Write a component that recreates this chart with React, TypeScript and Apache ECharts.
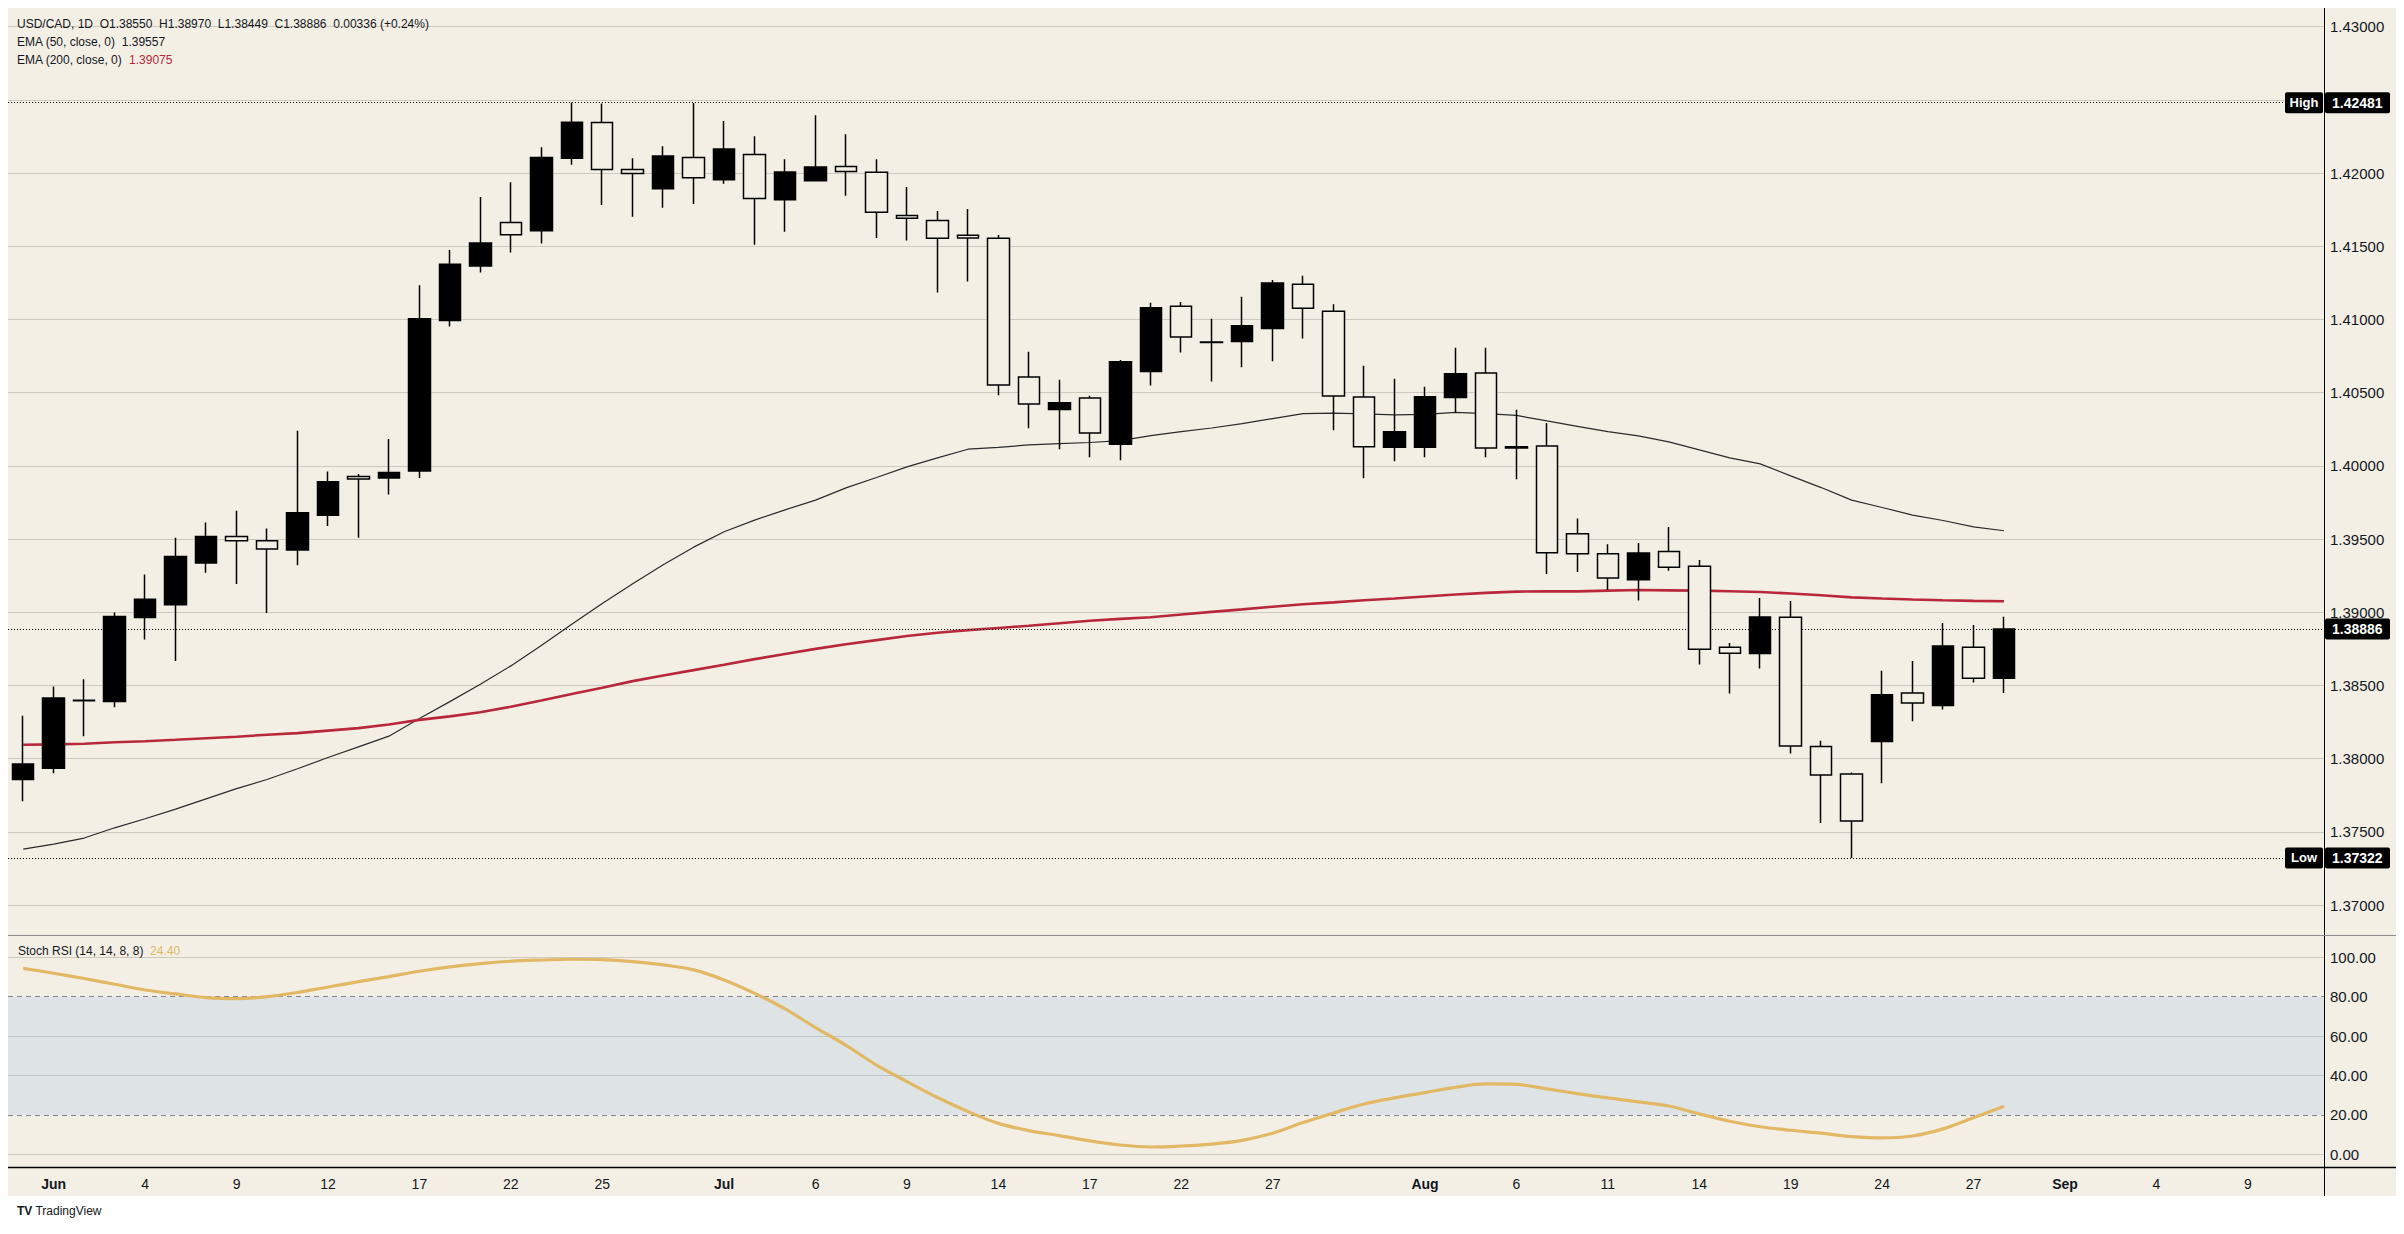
import React, { useEffect, useRef } from "react";
import * as echarts from "echarts";

// ---------- categories (trading days, weekdays only) ----------
const dates = [
  "2026-05-29",
  "2026-06-01", "2026-06-02", "2026-06-03", "2026-06-04", "2026-06-05",
  "2026-06-08", "2026-06-09", "2026-06-10", "2026-06-11", "2026-06-12",
  "2026-06-15", "2026-06-16", "2026-06-17", "2026-06-18", "2026-06-19",
  "2026-06-22", "2026-06-23", "2026-06-24", "2026-06-25", "2026-06-26",
  "2026-06-29", "2026-06-30", "2026-07-01", "2026-07-02", "2026-07-03",
  "2026-07-06", "2026-07-07", "2026-07-08", "2026-07-09", "2026-07-10",
  "2026-07-13", "2026-07-14", "2026-07-15", "2026-07-16", "2026-07-17",
  "2026-07-20", "2026-07-21", "2026-07-22", "2026-07-23", "2026-07-24",
  "2026-07-27", "2026-07-28", "2026-07-29", "2026-07-30", "2026-07-31",
  "2026-08-03", "2026-08-04", "2026-08-05", "2026-08-06", "2026-08-07",
  "2026-08-10", "2026-08-11", "2026-08-12", "2026-08-13", "2026-08-14",
  "2026-08-17", "2026-08-18", "2026-08-19", "2026-08-20", "2026-08-21",
  "2026-08-24", "2026-08-25", "2026-08-26", "2026-08-27", "2026-08-28",
  "2026-08-31", "2026-09-01", "2026-09-02", "2026-09-03", "2026-09-04",
  "2026-09-07", "2026-09-08", "2026-09-09", "2026-09-10", "2026-09-11",
];

// tick labels on the time axis
const timeLabels: Record<string, string> = {
  "2026-06-01": "Jun", "2026-06-04": "4", "2026-06-09": "9", "2026-06-12": "12",
  "2026-06-17": "17", "2026-06-22": "22", "2026-06-25": "25",
  "2026-07-01": "Jul", "2026-07-06": "6", "2026-07-09": "9", "2026-07-14": "14",
  "2026-07-17": "17", "2026-07-22": "22", "2026-07-27": "27",
  "2026-08-03": "Aug", "2026-08-06": "6", "2026-08-11": "11", "2026-08-14": "14",
  "2026-08-19": "19", "2026-08-24": "24", "2026-08-27": "27",
  "2026-09-01": "Sep", "2026-09-04": "4", "2026-09-09": "9",
};
const monthLabels = ["Jun", "Jul", "Aug", "Sep"];

// ---------- OHLC ----------
const opens = [
  1.37858, 1.37935, 1.38395, 1.38390, 1.38964, 1.39051, 1.39336, 1.39517, 1.39489, 1.39426,
  1.39663, 1.39927, 1.39917, 1.39965, 1.40994, 1.41366, 1.41662, 1.41606, 1.42102, 1.42345,
  1.42025, 1.41893, 1.42107, 1.41955, 1.42127, 1.41818, 1.41948, 1.42045, 1.42005, 1.41711,
  1.41677, 1.41575, 1.41555, 1.40607, 1.40386, 1.40464, 1.40148, 1.40645, 1.41091, 1.40843,
  1.40850, 1.40939, 1.41241, 1.41057, 1.40470, 1.40127, 1.40127, 1.40468, 1.40634, 1.40122,
  1.40136, 1.39536, 1.39400, 1.39223, 1.39416, 1.39314, 1.38761, 1.38718, 1.38966, 1.38083,
  1.37895, 1.38118, 1.38448, 1.38364, 1.38761, 1.38550,
];
const highs = [
  1.38293, 1.38494, 1.38543, 1.38999, 1.39259, 1.39510, 1.39614, 1.39694, 1.39572, 1.40240,
  1.39962, 1.39944, 1.40184, 1.41234, 1.41474, 1.41836, 1.41937, 1.42177, 1.42481, 1.42475,
  1.42102, 1.42184, 1.42478, 1.42355, 1.42252, 1.42095, 1.42395, 1.42266, 1.42095, 1.41905,
  1.41741, 1.41755, 1.41577, 1.40780, 1.40589, 1.40480, 1.40723, 1.41114, 1.41120, 1.41005,
  1.41155, 1.41270, 1.41298, 1.41105, 1.40684, 1.40595, 1.40541, 1.40807, 1.40807, 1.40384,
  1.40293, 1.39641, 1.39464, 1.39473, 1.39582, 1.39357, 1.38791, 1.39098, 1.39077, 1.38123,
  1.37905, 1.38600, 1.38668, 1.38927, 1.38914, 1.38970,
];
const lows = [
  1.37709, 1.37900, 1.38154, 1.38352, 1.38814, 1.38668, 1.39270, 1.39193, 1.38995, 1.39322,
  1.39590, 1.39510, 1.39805, 1.39917, 1.40953, 1.41321, 1.41457, 1.41519, 1.42057, 1.41782,
  1.41702, 1.41764, 1.41789, 1.41927, 1.41511, 1.41600, 1.41945, 1.41845, 1.41557, 1.41539,
  1.41184, 1.41259, 1.40482, 1.40257, 1.40114, 1.40059, 1.40039, 1.40550, 1.40775, 1.40577,
  1.40673, 1.40714, 1.40870, 1.40243, 1.39916, 1.40032, 1.40059, 1.40364, 1.40059, 1.39909,
  1.39261, 1.39275, 1.39152, 1.39080, 1.39284, 1.38643, 1.38445, 1.38616, 1.38036, 1.37561,
  1.37322, 1.37832, 1.38255, 1.38336, 1.38520, 1.38449,
];
const closes = [
  1.37963, 1.38415, 1.38400, 1.38971, 1.39089, 1.39381, 1.39517, 1.39489, 1.39433, 1.39680,
  1.39892, 1.39910, 1.39955, 1.41005, 1.41377, 1.41523, 1.41579, 1.42107, 1.42348, 1.42025,
  1.41998, 1.42116, 1.41968, 1.42164, 1.41827, 1.42007, 1.42041, 1.42011, 1.41732, 1.41691,
  1.41555, 1.41557, 1.40552, 1.40423, 1.40432, 1.40225, 1.40711, 1.41080, 1.40880, 1.40847,
  1.40957, 1.41250, 1.41077, 1.40477, 1.40130, 1.40234, 1.40473, 1.40630, 1.40123, 1.40130,
  1.39407, 1.39400, 1.39234, 1.39405, 1.39307, 1.38748, 1.38720, 1.38968, 1.38086, 1.37889,
  1.37575, 1.38436, 1.38380, 1.38770, 1.38550, 1.38886,
];

// ---------- indicators ----------
const ema50 = [
  1.37382, 1.37417, 1.37458, 1.37528, 1.37590, 1.37656, 1.37726, 1.37796, 1.37858, 1.37931,
  1.38008, 1.38081, 1.38154, 1.38275, 1.38390, 1.38508, 1.38634, 1.38773, 1.38919, 1.39060,
  1.39195, 1.39325, 1.39445, 1.39550, 1.39630, 1.39700, 1.39766, 1.39850, 1.39921, 1.39993,
  1.40055, 1.40114, 1.40127, 1.40143, 1.40152, 1.40160, 1.40173, 1.40207, 1.40234, 1.40259,
  1.40289, 1.40323, 1.40357, 1.40361, 1.40355, 1.40348, 1.40352, 1.40366, 1.40357, 1.40345,
  1.40307, 1.40270, 1.40234, 1.40205, 1.40164, 1.40109, 1.40055, 1.40014, 1.39932, 1.39852,
  1.39766, 1.39716, 1.39664, 1.39627, 1.39584, 1.39557,
];
const ema200 = [
  1.38095, 1.38098, 1.38102, 1.38112, 1.38119, 1.38129, 1.38140, 1.38150, 1.38164, 1.38175,
  1.38192, 1.38209, 1.38234, 1.38265, 1.38289, 1.38317, 1.38355, 1.38397, 1.38442, 1.38485,
  1.38530, 1.38568, 1.38605, 1.38642, 1.38680, 1.38715, 1.38750, 1.38782, 1.38810, 1.38838,
  1.38860, 1.38878, 1.38893, 1.38908, 1.38925, 1.38942, 1.38955, 1.38966, 1.38985, 1.39003,
  1.39020, 1.39038, 1.39055, 1.39068, 1.39082, 1.39094, 1.39108, 1.39122, 1.39133, 1.39141,
  1.39144, 1.39143, 1.39148, 1.39152, 1.39150, 1.39148, 1.39144, 1.39139, 1.39128, 1.39116,
  1.39102, 1.39094, 1.39087, 1.39082, 1.39078, 1.39075,
];
const stochRsi = [
  94.4, 91.9, 89.2, 86.3, 83.4, 81.4, 79.5, 79.0, 80.0, 82.1,
  84.9, 87.6, 90.2, 92.9, 95.1, 96.8, 98.0, 98.6, 99.0, 98.8,
  97.8, 96.1, 93.6, 88.5, 81.7, 73.8, 64.3, 55.3, 45.3, 36.9,
  28.8, 21.7, 15.7, 12.0, 9.5, 6.8, 4.7, 3.7, 4.2, 5.2,
  7.1, 10.7, 16.1, 21.0, 25.5, 28.6, 31.3, 34.0, 35.7, 35.5,
  33.2, 30.8, 28.6, 26.6, 24.5, 20.5, 16.8, 14.0, 12.2, 10.7,
  9.0, 8.3, 9.3, 12.9, 18.6, 24.4,
];

// ---------- ticks ----------
const priceTicks = [1.37, 1.375, 1.38, 1.385, 1.39, 1.395, 1.4, 1.405, 1.41, 1.415, 1.42, 1.425, 1.43];
const rsiTicks = [0, 20, 40, 60, 80, 100];
const rsiGridTicks = [0, 40, 60, 100];
const rsiBand = [20, 80];

// ---------- style constants ----------
const FONT = '"Liberation Sans", Arial, sans-serif';
const BG = "#f3efe5";
const GRID = "#cdc9bf";
const TEXT = "#131722";
const RED = "#b8283a";
const ORANGE = "#e2b865";
const AXIS_W = 72;
const PRICE_TOP = 0;
const PRICE_H = 927;
const RSI_H = 232;
const BOTTOM = 1188;

const PRICE_MIN = 1.367958;
const PRICE_MAX = 1.431277;
const RSI_MIN = -6.45;
const RSI_MAX = 111.3;

export default function App() {
  const ref = useRef<HTMLDivElement>(null);

  useEffect(() => {
    const el = ref.current!;
    const chart = echarts.init(el, undefined, { renderer: "svg" });
    const W = el.clientWidth;
    const axisX = W - AXIS_W;

    const ohlc = opens.map((o, i) => [o, closes[i], lows[i], highs[i]]);
    const HIGH = Math.max(...highs);
    const LOW = Math.min(...lows);
    const LAST = closes[closes.length - 1];
    const last = closes.length - 1;

    const option: any = {
      animation: false,
      backgroundColor: "#ffffff",
      textStyle: { fontFamily: FONT },
      grid: [
        { left: -6.4, right: AXIS_W, top: PRICE_TOP, height: PRICE_H },
        { left: -6.4, right: AXIS_W, top: PRICE_TOP + PRICE_H, height: RSI_H },
      ],
      xAxis: [
        {
          type: "category", gridIndex: 0, data: dates, boundaryGap: true,
          axisLine: { show: false }, axisTick: { show: false },
          axisLabel: { show: false }, splitLine: { show: false },
        },
        {
          type: "category", gridIndex: 1, data: dates, boundaryGap: true,
          axisLine: { show: false }, axisTick: { show: false }, splitLine: { show: false },
          axisLabel: {
            interval: (_i: number, v: string) => v in timeLabels,
            formatter: (v: string) => {
              const t = timeLabels[v] || "";
              return monthLabels.includes(t) ? `{m|${t}}` : t;
            },
            margin: 10, fontSize: 14, color: TEXT, fontFamily: FONT,
            rich: { m: { fontWeight: "bold", fontSize: 14, color: TEXT, fontFamily: FONT } },
          },
        },
      ],
      yAxis: [
        {
          type: "value", gridIndex: 0, position: "right", min: PRICE_MIN, max: PRICE_MAX,
          axisLine: { show: false },
          axisTick: { show: false, customValues: priceTicks },
          axisLabel: {
            customValues: priceTicks, formatter: (v: number) => v.toFixed(5),
            margin: 6, fontSize: 15, color: TEXT, fontFamily: FONT,
          },
          splitLine: { show: true, lineStyle: { color: GRID, width: 1 } },
        },
        {
          type: "value", gridIndex: 1, position: "right", min: RSI_MIN, max: RSI_MAX,
          axisLine: { show: false },
          axisTick: { show: false, customValues: rsiGridTicks },
          axisLabel: {
            customValues: rsiTicks, formatter: (v: number) => v.toFixed(2),
            margin: 6, fontSize: 15, color: TEXT, fontFamily: FONT,
          },
          splitLine: { show: true, lineStyle: { color: GRID, width: 1 } },
        },
      ],
      series: [
        {
          type: "candlestick", name: "USD/CAD", xAxisIndex: 0, yAxisIndex: 0,
          data: ohlc, barWidth: 22, z: 5,
          itemStyle: {
            color: "#000000", color0: BG,
            borderColor: "#000000", borderColor0: "#000000", borderWidth: 1.5,
          },
          markLine: {
            silent: true, symbol: ["none", "none"], animation: false, precision: 5,
            label: { show: false },
            lineStyle: { color: "#000000", width: 1, type: [1, 2] },
            data: [{ yAxis: HIGH }, { yAxis: LOW }, { yAxis: LAST }],
          },
        },
        {
          type: "line", name: "EMA 50", xAxisIndex: 0, yAxisIndex: 0, data: ema50,
          symbol: "none", z: 4, lineStyle: { color: "#2b2b2b", width: 1.2 },
        },
        {
          type: "line", name: "EMA 200", xAxisIndex: 0, yAxisIndex: 0, data: ema200,
          symbol: "none", z: 4, lineStyle: { color: RED, width: 2.6 },
        },
        {
          type: "line", name: "Stoch RSI", xAxisIndex: 1, yAxisIndex: 1, data: stochRsi,
          symbol: "none", smooth: 0.35, z: 5, lineStyle: { color: ORANGE, width: 3.2 },
          markArea: {
            silent: true,
            itemStyle: { color: "rgba(120,175,236,0.17)" },
            data: [[{ yAxis: rsiBand[0] }, { yAxis: rsiBand[1] }]],
          },
          markLine: {
            silent: true, symbol: ["none", "none"], label: { show: false }, precision: 2,
            lineStyle: { color: "#80838b", width: 1, type: [5, 4] },
            data: rsiBand.map((v) => ({ yAxis: v })),
          },
        },
      ],
    };
    chart.setOption(option);

    const yHigh = chart.convertToPixel({ yAxisIndex: 0 }, HIGH) as number;
    const yLow = chart.convertToPixel({ yAxisIndex: 0 }, LOW) as number;
    const yLast = chart.convertToPixel({ yAxisIndex: 0 }, LAST) as number;

    const box = (y: number, label: string) => [
      {
        type: "rect", z: 60, silent: true,
        shape: { x: axisX + 1, y: y - 10.5, width: 65, height: 21, r: 2 },
        style: { fill: "#000000" },
      },
      {
        type: "text", z: 61, silent: true, x: axisX + 8, y,
        style: { text: label, fill: "#ffffff", font: `bold 14px ${FONT}`, align: "left", verticalAlign: "middle" },
      },
    ];
    const tag = (y: number, label: string) => [
      {
        type: "rect", z: 60, silent: true,
        shape: { x: axisX - 39, y: y - 10.5, width: 38, height: 21, r: 2 },
        style: { fill: "#000000" },
      },
      {
        type: "text", z: 61, silent: true, x: axisX - 20, y,
        style: { text: label, fill: "#ffffff", font: `bold 13px ${FONT}`, align: "center", verticalAlign: "middle" },
      },
    ];

    const f = (v: number) => v.toFixed(5);
    const chg = LAST - opens[last];
    const pct = (chg / opens[last]) * 100;

    chart.setOption({
      graphic: [
        { type: "rect", z: -100, silent: true, shape: { x: 0, y: 0, width: W, height: BOTTOM }, style: { fill: BG } },
        { type: "line", z: 50, silent: true, shape: { x1: axisX + 0.5, y1: 0, x2: axisX + 0.5, y2: BOTTOM }, style: { stroke: "#000000", lineWidth: 1 } },
        { type: "line", z: 50, silent: true, shape: { x1: 0, y1: PRICE_H + 0.5, x2: W, y2: PRICE_H + 0.5 }, style: { stroke: "#8d8d8d", lineWidth: 1 } },
        { type: "line", z: 50, silent: true, shape: { x1: 0, y1: PRICE_H + RSI_H + 0.5, x2: W, y2: PRICE_H + RSI_H + 0.5 }, style: { stroke: "#000000", lineWidth: 1.5 } },
        {
          type: "text", z: 70, silent: true, x: 9, y: 16,
          style: {
            text: `USD/CAD, 1D  O${f(opens[last])}  H${f(highs[last])}  L${f(lows[last])}  C${f(LAST)}  ${chg.toFixed(5)} (+${pct.toFixed(2)}%)`,
            fill: TEXT, font: `12px ${FONT}`, verticalAlign: "middle",
          },
        },
        {
          type: "text", z: 70, silent: true, x: 9, y: 34,
          style: { text: `EMA (50, close, 0)  ${f(ema50[last])}`, fill: TEXT, font: `12px ${FONT}`, verticalAlign: "middle" },
        },
        {
          type: "text", z: 70, silent: true, x: 9, y: 52,
          style: {
            text: `EMA (200, close, 0)  {r|${f(ema200[last])}}`,
            fill: TEXT, font: `12px ${FONT}`, verticalAlign: "middle",
            rich: { r: { fill: RED, font: `12px ${FONT}` } },
          },
        },
        {
          type: "text", z: 70, silent: true, x: 10, y: 943,
          style: {
            text: `Stoch RSI (14, 14, 8, 8)  {o|${stochRsi[last].toFixed(2)}}`,
            fill: TEXT, font: `12px ${FONT}`, verticalAlign: "middle",
            rich: { o: { fill: ORANGE, font: `12px ${FONT}` } },
          },
        },
        {
          type: "text", z: 70, silent: true, x: 9, y: 1203,
          style: { text: "{b|TV} TradingView", fill: TEXT, font: `12px ${FONT}`, verticalAlign: "middle", rich: { b: { font: `bold 12px ${FONT}`, fill: TEXT } } },
        },
        ...tag(yHigh, "High"),
        ...box(yHigh, f(HIGH)),
        ...tag(yLow, "Low"),
        ...box(yLow, f(LOW)),
        ...box(yLast, f(LAST)),
      ],
    });

    return () => chart.dispose();
  }, []);

  return <div ref={ref} style={{ width: "100%", height: 1218 }} />;
}
